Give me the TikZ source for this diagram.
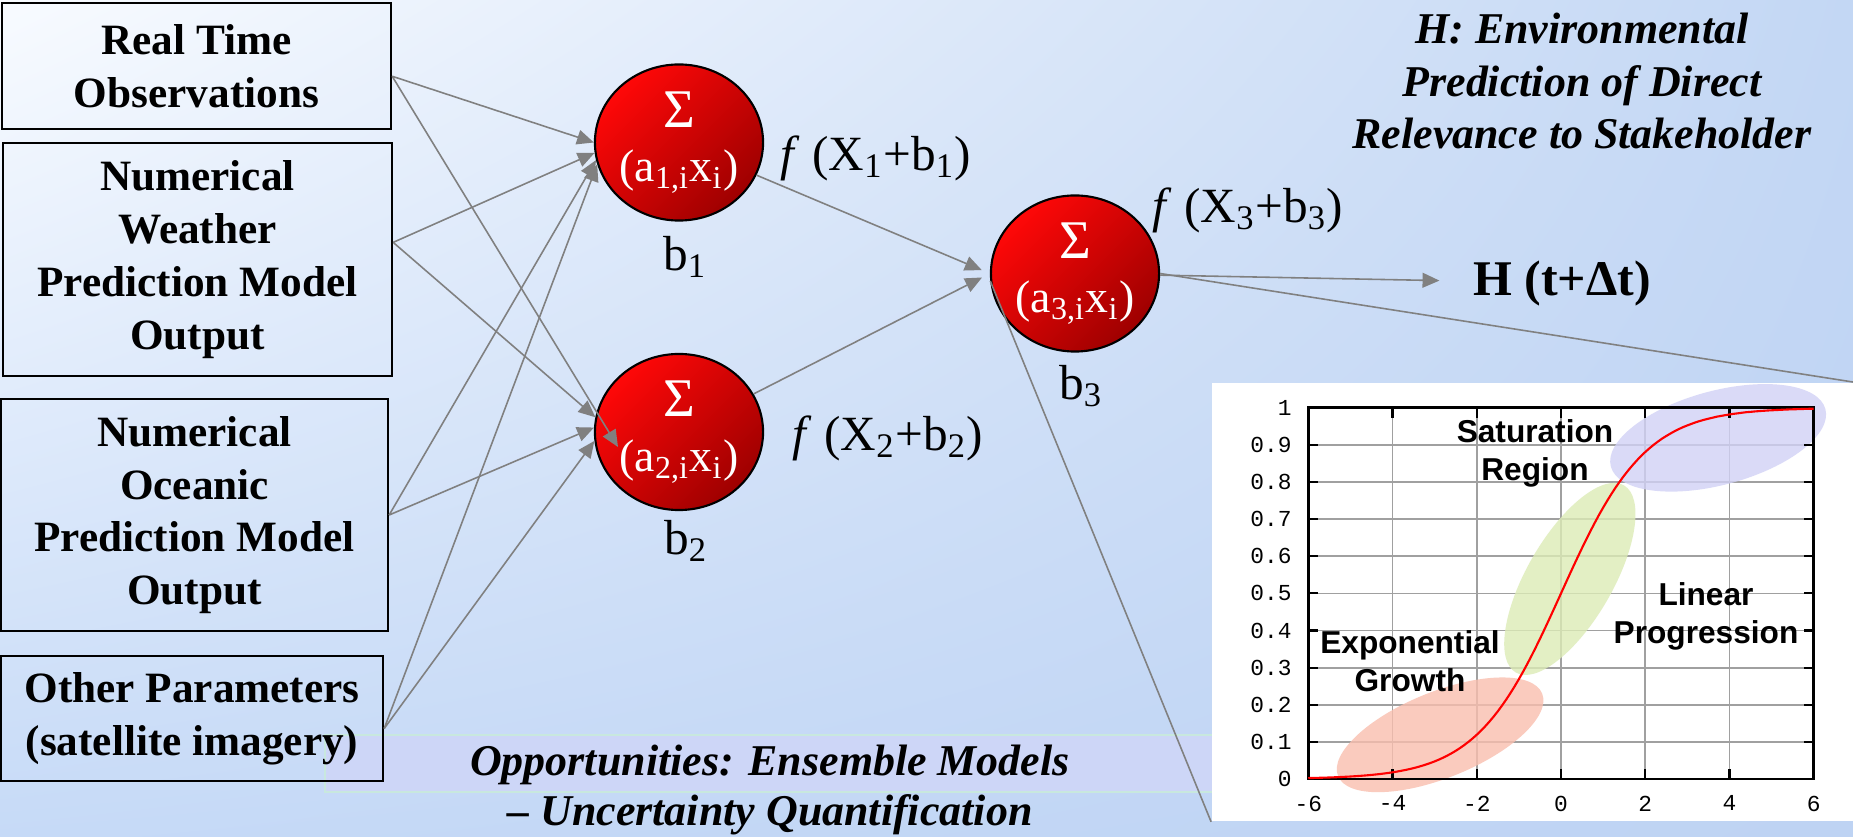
\documentclass[tikz,border=0pt]{standalone}
\usepackage{fontspec}
\setmainfont{Liberation Serif}
\newfontfamily\chartsans{Liberation Sans}
\newfontfamily\chartmono{Liberation Mono}
\usepackage{tikz}
\usetikzlibrary{positioning,arrows.meta,shapes.geometric,shadings}
\definecolor{bgtl}{RGB}{248,251,255}
\definecolor{bgtr}{RGB}{195,215,244}
\definecolor{bgbl}{RGB}{198,218,247}
\definecolor{bgbr}{RGB}{190,211,243}
\definecolor{linkgray}{RGB}{128,128,128}
\definecolor{sumlight}{RGB}{255,8,8}
\definecolor{sumdark}{RGB}{158,0,0}
\definecolor{bandfill}{RGB}{205,214,247}
\definecolor{bandline}{RGB}{200,232,222}
\definecolor{satfill}{RGB}{209,209,246}
\definecolor{linfill}{RGB}{220,235,182}
\definecolor{expfill}{RGB}{249,190,174}
\definecolor{gridgray}{RGB}{160,160,160}
\newcommand{\bigsum}{{\fontsize{15.5}{15.6}\selectfont Σ}}
\tikzset{
  inbox/.style    = {draw=black, line width=0.6pt, align=center, inner sep=0pt,
                     font=\fontsize{12.3}{15}\selectfont\bfseries},
  sumnode/.style  = {ellipse, minimum width=1.68cm, minimum height=1.56cm, inner sep=0pt,
                     draw=black, line width=0.6pt,
                     top color=sumlight, bottom color=sumdark, shading angle=45,
                     text=white, align=center, font=\fontsize{13}{15.6}\selectfont},
  flabel/.style   = {inner sep=0pt, font=\fontsize{14}{16}\selectfont},
  wlink/.style    = {draw=linkgray, line width=0.45pt, -{Triangle[length=4.8pt,width=4.2pt]}},
  zoomline/.style = {draw=linkgray, line width=0.45pt},
  gridline/.style = {draw=gridgray, line width=0.5pt},
  chartlbl/.style = {align=center, inner sep=0pt,
                     font=\chartsans\fontsize{9}{10.8}\selectfont\bfseries},
  ticklbl/.style  = {inner sep=0pt, font=\chartmono\fontsize{6.5}{7}\selectfont}
}

\begin{document}
\begin{tikzpicture}[x=0.01cm, y=-0.01cm]
  % ---- background ----
  \shade[upper left=bgtl, upper right=bgtr, lower left=bgbl, lower right=bgbr]
    (0,0) rectangle (1853,837);
  \useasboundingbox (0,0) rectangle (1853,837);
  % ---- ensemble band ----
  \filldraw[fill=bandfill, draw=bandline, line width=0.4pt] (325,735) rectangle (1215,792);
  % ---- sigmoid chart ----
  \node[fill=white, inner sep=0pt, minimum width=6.41cm, minimum height=4.38cm] (chart) at (1532.5,602) {};
  \begin{scope}[shift={(1561,779)}, x=0.421cm, y=3.71cm]
    \foreach \gx in {-4,-2,...,4} \draw[gridline] (\gx,0) -- (\gx,1);
    \foreach \k in {1,...,9} \draw[gridline] (-6,\k/10) -- (6,\k/10);
    % regions
    \fill[satfill, fill opacity=0.8, rotate around={15:(3.73,0.919)}]
      (3.73,0.919) ellipse [x radius=1.11cm, y radius=0.47cm];
    \fill[linfill, fill opacity=0.8, rotate around={60:(0.21,0.539)}]
      (0.21,0.539) ellipse [x radius=1.08cm, y radius=0.43cm];
    \fill[expfill, fill opacity=0.8, rotate around={22:(-2.87,0.119)}]
      (-2.87,0.119) ellipse [x radius=1.10cm, y radius=0.43cm];
    % frame and ticks
    \draw[black, line width=0.8pt] (-6,0) rectangle (6,1);
    \foreach \gx in {-4,-2,...,4} {
      \draw[black, line width=0.6pt] (\gx,0) -- ++(0pt,0.1cm);
      \draw[black, line width=0.6pt] (\gx,1) -- ++(0pt,-0.1cm);
    }
    \foreach \k in {1,...,9} {
      \draw[black, line width=0.6pt] (-6,\k/10) -- ++(0.1cm,0pt);
      \draw[black, line width=0.6pt] (6,\k/10) -- ++(-0.1cm,0pt);
    }
    \draw[red, line width=0.6pt] plot[domain=-6:6, samples=121] (\x,{1/(1+exp(-\x))});
    % tick labels
    \foreach \k/\ylab in {0/0,1/0.1,2/0.2,3/0.3,4/0.4,5/0.5,6/0.6,7/0.7,8/0.8,9/0.9,10/1}
      \node[ticklbl, anchor=east, xshift=-0.16cm] (yt\k) at (-6,\k/10) {\ylab};
    \foreach \gx in {-6,-4,...,6}
      \node[ticklbl, anchor=north, yshift=-0.16cm] (xt\gx) at (\gx,0) {\gx};
  \end{scope}
  \node[chartlbl] (satlbl) at (1535,453) {Saturation\\Region};
  \node[chartlbl] (linlbl) at (1706,616) {Linear\\Progression};
  \node[chartlbl] (explbl) at (1410,661) {Exponential\\Growth};
  % ---- inputs ----
  \node[inbox, minimum width=3.89cm, minimum height=1.26cm] (in1) at (196.5,66)  {Real Time\\Observations};
  \node[inbox, minimum width=3.89cm, minimum height=2.33cm] (in2) at (197.5,259.5) {Numerical\\Weather\\Prediction Model\\Output};
  \node[inbox, minimum width=3.87cm, minimum height=2.32cm] (in3) at (194.5,515) {Numerical\\Oceanic\\Prediction Model\\Output};
  \node[inbox, minimum width=3.82cm, minimum height=1.25cm] (in4) at (192,718.5) {Other Parameters\\(satellite imagery)};
  % ---- summing nodes ----
  \node[sumnode] (h1) at (679,142.5) {\bigsum\\(a\textsubscript{1,i}x\textsubscript{i})};
  \node[sumnode] (h2) at (679,432)   {\bigsum\\(a\textsubscript{2,i}x\textsubscript{i})};
  \node[sumnode] (h3) at (1075,273.5) {\bigsum\\(a\textsubscript{3,i}x\textsubscript{i})};
  \coordinate (h2in) at (618,447);
  % ---- labels ----
  \node[flabel] (f1) at (876,158)  {\textit{f} (X\textsubscript{1}+b\textsubscript{1})};
  \node[flabel] (f2) at (888,438)  {\textit{f} (X\textsubscript{2}+b\textsubscript{2})};
  \node[flabel] (f3) at (1248,210) {\textit{f} (X\textsubscript{3}+b\textsubscript{3})};
  \node[flabel] (b1) at (685,257)  {b\textsubscript{1}};
  \node[flabel] (b2) at (686,541)  {b\textsubscript{2}};
  \node[flabel] (b3) at (1081,386) {b\textsubscript{3}};
  \node[inner sep=0pt, font=\fontsize{14.2}{17}\selectfont\bfseries] (hout) at (1562,283) {H (t+Δt)};
  \node[inner sep=0pt, align=center, font=\fontsize{12.5}{14.8}\selectfont\bfseries\itshape]
    (htitle) at (1582,81) {H: Environmental\\Prediction of Direct\\Relevance to Stakeholder};
  \node[inner sep=0pt, align=center, font=\fontsize{12.5}{14.2}\selectfont\bfseries\itshape]
    (opp) at (770,790) {Opportunities: Ensemble Models\\– Uncertainty Quantification};
  % ---- weights ----
  \draw[wlink] (in1.357) -- (h1.west);
  \draw[wlink] (in1.357) -- (h2in);
  \draw[wlink] (in2.5)   -- (h1.187);
  \draw[wlink] (in2.5)   -- (h2.170);
  \draw[wlink] (in3.east) -- (h1.192);
  \draw[wlink] (in3.east) -- (h2.177);
  \draw[wlink] (in4.357) -- (h1.195);
  \draw[wlink] (in4.357) -- (h2.186);
  \draw[wlink, shorten >=2.5pt] (h1) -- (h3.west);
  \draw[wlink, shorten >=2.5pt] (h2) -- (h3.west);
  \draw[wlink, shorten >=9.4pt] (h3) -- (hout);
  % ---- zoom onto f ----
  \draw[zoomline] (h3.east) -- (chart.north east);
  \draw[zoomline] (h3.185)  -- (chart.south west);
\end{tikzpicture}
\end{document}
